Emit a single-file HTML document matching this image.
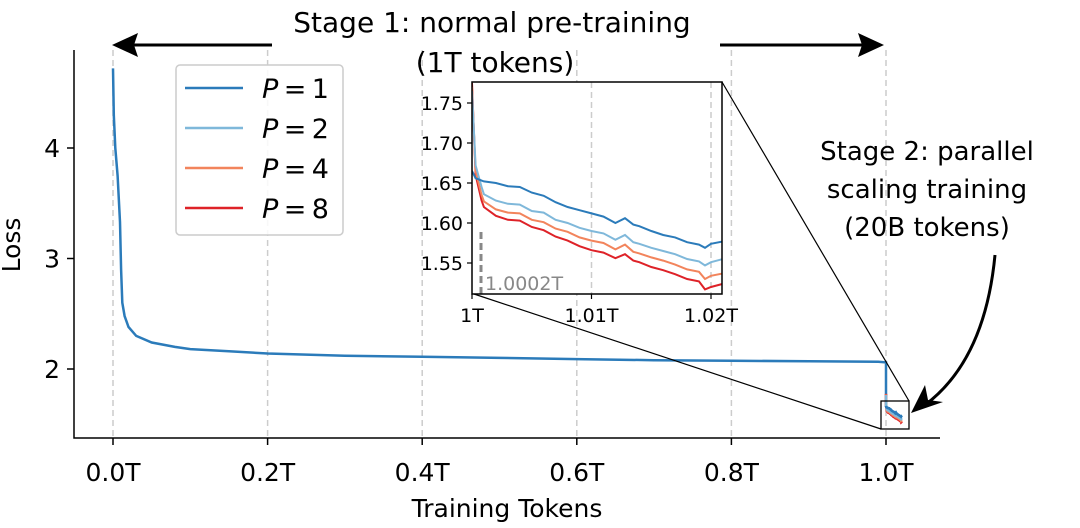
<!DOCTYPE html>
<html><head><meta charset="utf-8"><style>
body{margin:0;background:#fff;}
svg{display:block;font-family:"DejaVu Sans","Liberation Sans",sans-serif;}
</style></head><body>
<svg id="c" width="1080" height="528"></svg>
<script>
// main series data (T, loss)
const mainX=[0,0.001,0.003,0.006,0.009,0.0105,0.012,0.015,0.02,0.03,0.05,0.08,0.1,0.15,0.2,0.3,0.4,0.5,0.6,0.7,0.8,0.9,0.99,1.0,1.0,1.0005];
const mainY=[4.72,4.3,4.0,3.75,3.33,2.9,2.6,2.48,2.38,2.3,2.24,2.2,2.18,2.16,2.14,2.12,2.11,2.1,2.09,2.08,2.075,2.07,2.065,2.06,1.665,1.655];
// inset: offsets in units of 0.001T beyond 1T
const insX=[0,0.3,0.8,1,2,3,4,5,6,7,8,9,10,11,12,12.8,13.5,14,15,16,17,18,19,19.5,20,21];
const p1=[1.665,1.656,1.653,1.652,1.650,1.646,1.645,1.638,1.634,1.626,1.620,1.616,1.612,1.608,1.600,1.606,1.598,1.596,1.590,1.585,1.582,1.576,1.573,1.569,1.574,1.577];
const p2=[1.765,1.672,1.645,1.636,1.628,1.624,1.623,1.615,1.613,1.604,1.600,1.594,1.590,1.587,1.579,1.585,1.576,1.574,1.569,1.565,1.561,1.555,1.552,1.547,1.551,1.555];
const p4=[1.770,1.665,1.635,1.627,1.617,1.613,1.612,1.604,1.601,1.593,1.589,1.582,1.578,1.575,1.567,1.573,1.564,1.562,1.557,1.553,1.548,1.542,1.539,1.530,1.534,1.537];
const p8=[1.775,1.660,1.628,1.620,1.609,1.604,1.603,1.595,1.591,1.583,1.578,1.571,1.566,1.563,1.556,1.561,1.553,1.551,1.545,1.541,1.536,1.530,1.527,1.517,1.520,1.524];
const series=[p1,p2,p4,p8];
const colors=["#2b7bba","#7fb8da","#f2845c","#de2228"];
const labels=["1","2","4","8"];
const xTicks=[0,0.2,0.4,0.6,0.8,1.0];
const xTickLabels=["0.0T","0.2T","0.4T","0.6T","0.8T","1.0T"];
const yTicks=[2,3,4];
const insYTicks=[1.55,1.60,1.65,1.70,1.75];
const insXTicks=[0,10,20];
const insXTickLabels=["1T","1.01T","1.02T"];

const X=v=>113+v*773, Y=v=>369-(v-2)*110.5;
const IX=v=>472+v*11.95, IY=v=>103-(v-1.75)*800;
const NS="http://www.w3.org/2000/svg", svg=document.getElementById('c');
function el(t,a,p){const e=document.createElementNS(NS,t);for(const k in a)e.setAttribute(k,a[k]);(p||svg).appendChild(e);return e;}
function txt(s,a,p){const e=el('text',a,p);e.textContent=s;return e;}
function path(xs,ys,fx,fy){return xs.map((x,i)=>(i?'L':'M')+fx(x).toFixed(1)+','+fy(ys[i]).toFixed(1)).join('');}

xTicks.forEach((t,i)=>{
 const g=el('line',{x1:X(t),x2:X(t),y1:50,y2:438,stroke:"#ccc","stroke-width":1.5,"stroke-dasharray":"6,4"});
 
 el('line',{x1:X(t),x2:X(t),y1:438,y2:445,stroke:"#000","stroke-width":1.5});
 const l=txt(xTickLabels[i],{x:X(t),y:481,"text-anchor":"middle","font-size":25});
 
});
yTicks.forEach(t=>{
 el('line',{x1:67,x2:74,y1:Y(t),y2:Y(t),stroke:"#000","stroke-width":1.5});
 const l=txt(t,{x:60,y:Y(t)+9,"text-anchor":"end","font-size":25});
 
});
const ax=el('path',{d:"M74,50V438H940",fill:"none",stroke:"#000","stroke-width":1.5});

const xl=txt("Training Tokens",{x:507,y:517,"text-anchor":"middle","font-size":25});

const yl=txt("Loss",{x:0,y:0,"text-anchor":"middle","font-size":25,transform:"translate(20,245) rotate(-90)"});


const ml=el('path',{d:path(mainX,mainY,X,Y),fill:"none",stroke:colors[0],"stroke-width":2.5});

series.slice().reverse().forEach((s,k)=>{
 const i=3-k;
 const p=el('path',{d:path(insX,s,v=>X(1+v/1000),Y),fill:"none",stroke:colors[i],"stroke-width":2.5});
 
});
el('path',{d:path(insX,p1,v=>X(1+v/1000),Y),fill:"none",stroke:colors[0],"stroke-width":2.5});
const zb=el('rect',{x:881,y:401,width:28,height:28,fill:"none",stroke:"#000","stroke-width":1.3});

el('line',{x1:722,y1:82,x2:909,y2:401,stroke:"#000","stroke-width":1.2});
el('line',{x1:474,y1:294,x2:881,y2:429,stroke:"#000","stroke-width":1.2});

const ig=el('g',{});

el('rect',{x:472,y:82,width:250,height:212,fill:"#fff"},ig);
const cp=el('clipPath',{id:"ic"},ig);el('rect',{x:472,y:82,width:250,height:212},cp);
[10,20].forEach(t=>el('line',{x1:IX(t),x2:IX(t),y1:82,y2:294,stroke:"#ccc","stroke-width":1.5,"stroke-dasharray":"6,4"},ig));
el('line',{x1:481,x2:481,y1:294,y2:230,stroke:"#888","stroke-width":3,"stroke-dasharray":"7,4"},ig);
txt("1.0002T",{x:485,y:290,"font-size":19,fill:"#888"},ig);
const lg=el('g',{"clip-path":"url(#ic)"},ig);
series.slice().reverse().forEach((s,k)=>{
 const i=3-k;
 const p=el('path',{d:path(insX,s,IX,IY),fill:"none",stroke:colors[i],"stroke-width":2},lg);
 
});
el('rect',{x:472,y:82,width:250,height:212,fill:"none",stroke:"#000","stroke-width":1.5},ig);
insYTicks.forEach(t=>{
 el('line',{x1:467,x2:472,y1:IY(t),y2:IY(t),stroke:"#000","stroke-width":1.2},ig);
 txt(t.toFixed(2),{x:463,y:IY(t)+7,"text-anchor":"end","font-size":19},ig);
});
insXTicks.forEach((t,i)=>{
 el('line',{x1:IX(t),x2:IX(t),y1:294,y2:299,stroke:"#000","stroke-width":1.2},ig);
 txt(insXTickLabels[i],{x:IX(t),y:322,"text-anchor":"middle","font-size":19},ig);
});

const lgd=el('g',{});

el('rect',{x:176,y:65,width:167,height:170,rx:4,fill:"#fff","fill-opacity":0.85,stroke:"#ccc","stroke-width":1.5},lgd);
labels.forEach((l,i)=>{
 const yy=88+i*40;
 const ent=el('g',{},lgd);
 
 el('line',{x1:185,x2:243,y1:yy,y2:yy,stroke:colors[i],"stroke-width":2.5},ent);
 const t=el('text',{x:262,y:yy+10,"font-size":27},ent);
 t.innerHTML='<tspan font-style="italic">P</tspan>\u2009=\u20091'.replace('1',l);
});

const t1=txt("Stage 1: normal pre-training",{x:492,y:32,"text-anchor":"middle","font-size":28});

const t2=txt("(1T tokens)",{x:495,y:72,"text-anchor":"middle","font-size":28});

el('line',{x1:272,y1:45,x2:130,y2:45,stroke:"#000","stroke-width":3});
el('path',{d:"M112,45L138,33L134,45L138,57Z",fill:"#000"});
el('line',{x1:720,y1:45,x2:866,y2:45,stroke:"#000","stroke-width":3});
el('path',{d:"M884,45L858,33L862,45L858,57Z",fill:"#000"});
["Stage 2: parallel","scaling training","(20B tokens)"].forEach((s,i)=>{
 const t=txt(s,{x:927,y:160+i*38,"text-anchor":"middle","font-size":26});
 
});
el('path',{d:"M995,255Q985,360 925,405",fill:"none",stroke:"#000","stroke-width":3});
el('path',{d:"M911,413L925,385L928,400L943,402Z",fill:"#000"});
</script>
</body></html>
